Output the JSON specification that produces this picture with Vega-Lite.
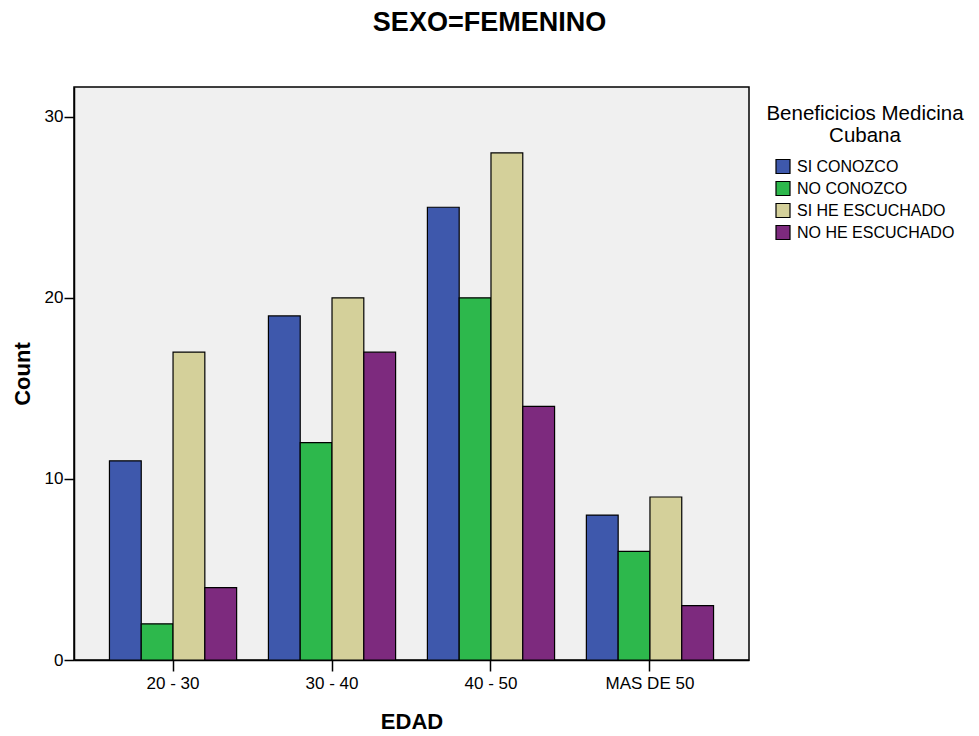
{
  "$schema": "https://vega.github.io/schema/vega-lite/v6.json",
  "width": 675,
  "height": 573,
  "autosize": "none",
  "padding": {"left": 74, "top": 87, "right": 230, "bottom": 76},
  "background": "white",
  "title": {"text": "SEXO=FEMENINO", "font": "Liberation Sans", "fontSize": 27, "fontWeight": "bold", "color": "black", "dx": 78, "offset": 50, "anchor": "middle"},
  "data": {"values": [
    {"EDAD": "20 - 30", "grupo": "SI CONOZCO", "Count": 11},
    {"EDAD": "20 - 30", "grupo": "NO CONOZCO", "Count": 2},
    {"EDAD": "20 - 30", "grupo": "SI HE ESCUCHADO", "Count": 17},
    {"EDAD": "20 - 30", "grupo": "NO HE ESCUCHADO", "Count": 4},
    {"EDAD": "30 - 40", "grupo": "SI CONOZCO", "Count": 19},
    {"EDAD": "30 - 40", "grupo": "NO CONOZCO", "Count": 12},
    {"EDAD": "30 - 40", "grupo": "SI HE ESCUCHADO", "Count": 20},
    {"EDAD": "30 - 40", "grupo": "NO HE ESCUCHADO", "Count": 17},
    {"EDAD": "40 - 50", "grupo": "SI CONOZCO", "Count": 25},
    {"EDAD": "40 - 50", "grupo": "NO CONOZCO", "Count": 20},
    {"EDAD": "40 - 50", "grupo": "SI HE ESCUCHADO", "Count": 28},
    {"EDAD": "40 - 50", "grupo": "NO HE ESCUCHADO", "Count": 14},
    {"EDAD": "MAS DE 50", "grupo": "SI CONOZCO", "Count": 8},
    {"EDAD": "MAS DE 50", "grupo": "NO CONOZCO", "Count": 6},
    {"EDAD": "MAS DE 50", "grupo": "SI HE ESCUCHADO", "Count": 9},
    {"EDAD": "MAS DE 50", "grupo": "NO HE ESCUCHADO", "Count": 3}
  ]},
  "mark": {"type": "bar", "stroke": "black", "strokeWidth": 1.2},
  "encoding": {
    "x": {
      "field": "EDAD", "type": "nominal",
      "sort": ["20 - 30", "30 - 40", "40 - 50", "MAS DE 50"],
      "scale": {"paddingInner": 0.2, "paddingOuter": 0.223},
      "axis": {
        "title": "EDAD", "labelAngle": 0, "labelFont": "Liberation Sans", "labelFontSize": 17, "labelColor": "black",
        "labelPadding": 4, "tickSize": 11, "tickColor": "black", "tickWidth": 1.5, "domainColor": "black", "domainWidth": 1.5,
        "titleFont": "Liberation Sans", "titleFontSize": 22, "titleFontWeight": "bold", "titleColor": "black", "titlePadding": 20
      }
    },
    "xOffset": {"field": "grupo", "type": "nominal", "sort": ["SI CONOZCO", "NO CONOZCO", "SI HE ESCUCHADO", "NO HE ESCUCHADO"]},
    "y": {
      "field": "Count", "type": "quantitative",
      "scale": {"domain": [0, 31.64], "nice": false},
      "axis": {
        "title": "Count", "values": [0, 10, 20, 30], "grid": false, "labelFont": "Liberation Sans", "labelFontSize": 17, "labelColor": "black",
        "labelPadding": 1, "tickSize": 10, "tickColor": "black", "tickWidth": 1.5, "domainColor": "black", "domainWidth": 1.5,
        "titleFont": "Liberation Sans", "titleFontSize": 22, "titleFontWeight": "bold", "titleColor": "black", "titlePadding": 10
      }
    },
    "color": {
      "field": "grupo", "type": "nominal",
      "sort": ["SI CONOZCO", "NO CONOZCO", "SI HE ESCUCHADO", "NO HE ESCUCHADO"],
      "scale": {"domain": ["SI CONOZCO", "NO CONOZCO", "SI HE ESCUCHADO", "NO HE ESCUCHADO"], "range": ["#3e58ac", "#2db84c", "#d4d09a", "#7d2a7e"]},
      "legend": {
        "title": ["Beneficicios Medicina", "Cubana"],
        "orient": "none", "legendX": 692, "legendY": 17,
        "titleFont": "Liberation Sans", "titleFontSize": 20.5, "titleFontWeight": "normal", "titleColor": "black", "titleLimit": 400,
        "titleAnchor": "middle", "titleAlign": "center", "titleLineHeight": 22, "titlePadding": 12,
        "labelFont": "Liberation Sans", "labelFontSize": 16, "labelColor": "black", "labelOffset": 6, "labelLimit": 300,
        "symbolType": "square", "symbolSize": 196, "symbolStrokeColor": "black", "symbolStrokeWidth": 1.2, "symbolOpacity": 1,
        "rowPadding": 2, "padding": 0
      }
    }
  },
  "config": {
    "view": {"fill": "#f0f0f0", "stroke": "black", "strokeWidth": 1.5}
  }
}
